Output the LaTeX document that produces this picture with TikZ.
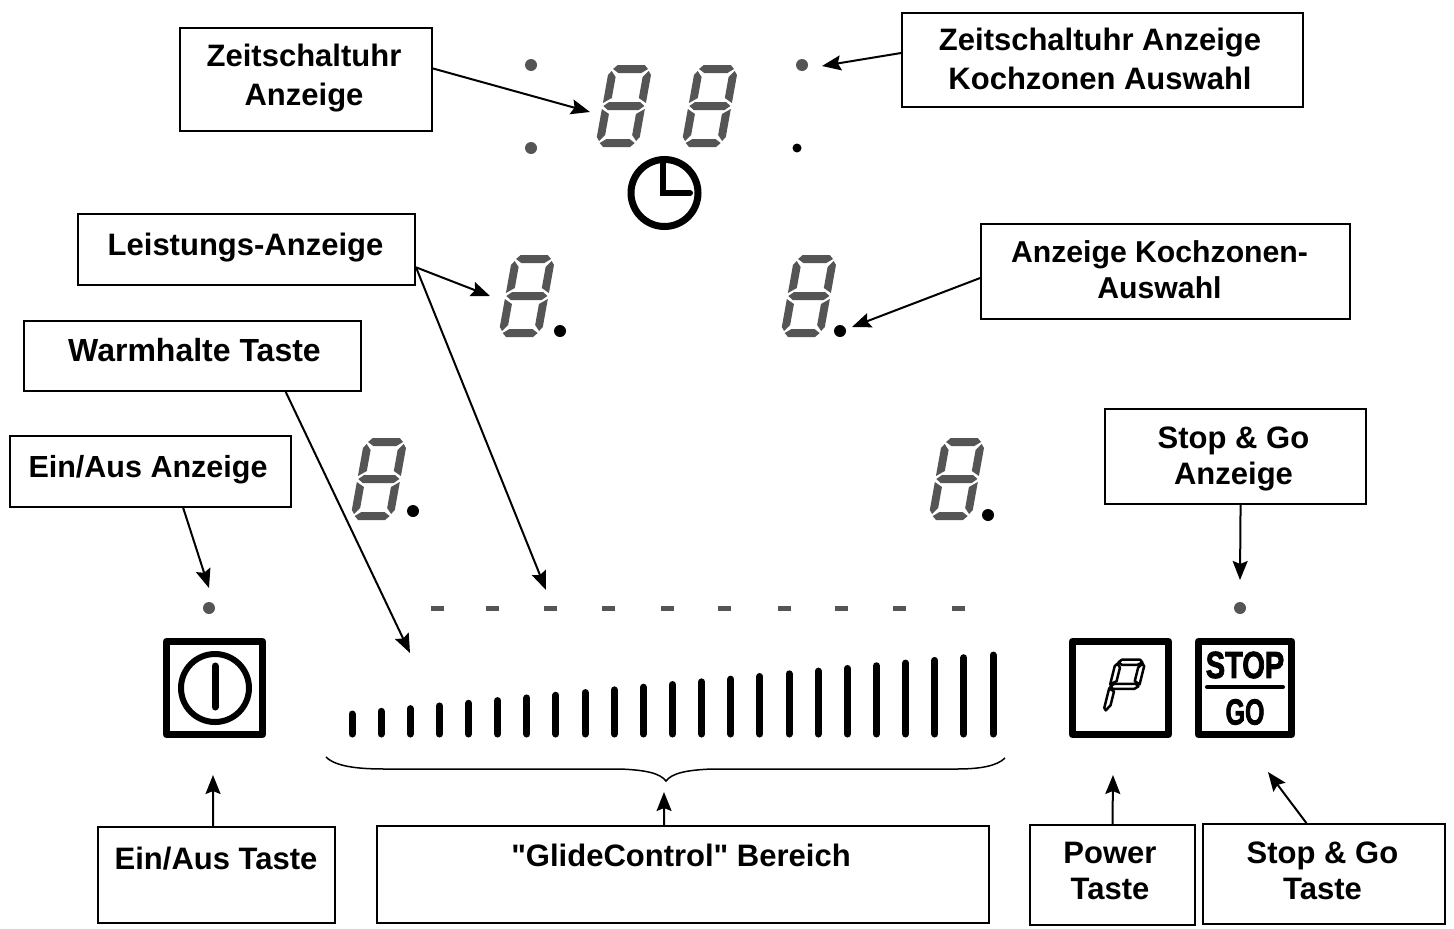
\documentclass[tikz,border=0pt]{standalone}
\usepackage{fontspec}
\setmainfont{Liberation Sans}
\newfontfamily\lf{Liberation Sans}
\newfontfamily\stopf[BoldFeatures={FakeBold=2.5}]{Liberation Sans}
\usetikzlibrary{arrows.meta}
\definecolor{segc}{HTML}{555555}
\tikzset{
  x=1pt,y=-1pt,
  lab/.style={draw=black,line width=1.5pt,fill=white,inner sep=0pt,font=\labfont},
  arr/.style={line width=2pt,-{Stealth[length=19pt,width=15pt,inset=3pt]}},
  seg/.style={fill=segc,draw=none},
  greydot/.style={circle,fill=segc,inner sep=0pt,minimum size=12pt},
  blackdot/.style={circle,fill=black,inner sep=0pt,minimum size=12pt},
  slider/.style={line width=7pt,line cap=round,black},
  lvldash/.style={line width=5.5pt,segc},
  keybox/.style={draw=black,line width=7pt,line join=round,fill=white,inner sep=0pt}
}
\newcommand\labfont{\fontsize{31}{36.5}\selectfont\lf\bfseries}
\newlength\labdx
\newcommand\lab[3][0pt]{\setlength\labdx{#1}\raisebox{#2}[0pt][0pt]{\makebox[0pt]{\hspace*{2\labdx}\begin{tabular}{@{}c@{}}#3\end{tabular}}}}
\newcommand\digitseg[2]{%
 \begin{scope}[shift={(#1-2,#2)},xslant=0.18]
  \fill[seg] (8,-82)--(35,-82)--(39,-78)--(33,-74)--(10,-74)--(4,-78)--cycle;
  \fill[seg] (6,-45)--(37,-45)--(42,-41)--(37,-37)--(6,-37)--(1,-41)--cycle;
  \fill[seg] (8,0)--(35,0)--(39,-4)--(33,-8)--(10,-8)--(4,-4)--cycle;
  \fill[seg] (0,-72)--(3,-76)--(8,-70)--(8,-49)--(0,-44)--cycle;
  \fill[seg] (43,-72)--(40,-76)--(35,-70)--(35,-49)--(43,-44)--cycle;
  \fill[seg] (0,-38)--(8,-33)--(8,-12)--(3,-6)--(0,-10)--cycle;
  \fill[seg] (43,-38)--(35,-33)--(35,-12)--(40,-6)--(43,-10)--cycle;
 \end{scope}}
\begin{document}
\begin{tikzpicture}
\useasboundingbox[fill=white] (0,0) rectangle (1454,929);
% displays
\digitseg{597}{147}\digitseg{683}{147}
\digitseg{500}{337}\digitseg{782}{337}
\digitseg{352}{520}\digitseg{930}{520}
\node[greydot] (d1) at (531,65) {};
\node[greydot] (d2) at (531,148) {};
\node[greydot] (d3) at (802,65) {};
\node[blackdot,minimum size=9pt] (d4) at (797,148) {};
\node[blackdot] (d5) at (560,331) {};
\node[blackdot] (d6) at (840,331) {};
\node[blackdot] (d7) at (413,511) {};
\node[blackdot] (d8) at (988,515) {};
\node[greydot] (d9) at (209,608) {};
\node[greydot] (d10) at (1240,608) {};
% clock
\draw[line width=7pt] (664.5,193) circle (33.5);
\draw[line width=6pt,line cap=round,line join=miter] (663,162) -- (663,193) -- (690,193);
% level dashes
\foreach \xp in {431,486,544,602,661,718,778,835,893,952} \draw[lvldash] (\xp,608.5) -- ++(13,0);
% slider bars
\foreach \i in {0,...,22} \draw[slider] ({352+29.14*\i},734) -- ({352+29.14*\i},{714-2.68*\i});
% brace
\draw[line width=1.5pt] (326,757) .. controls (336,767) and (360,769) .. (385,769) -- (620,769) .. controls (645,770) and (660,773) .. (666,781) .. controls (672,773) and (687,770) .. (712,769) -- (957,769) .. controls (980,769) and (997,766) .. (1005,758);
% keys
\node[keybox,minimum width=96pt,minimum height=93pt] (power) at (214.5,688) {};
\draw[line width=6pt] (215,688) circle (34);
\draw[line width=7pt,line cap=round] (215,666) -- (215,707);
\node[keybox,minimum width=96pt,minimum height=93pt] (pkey) at (1120.5,688) {};
\begin{scope}[shift={(1103,713)},xslant=0.25,xscale=0.7,yscale=0.65,line width=2.5pt,draw=black,fill=white,line join=round]
  \filldraw (8,-82)--(34,-82)--(38,-78)--(32,-74)--(10,-74)--(4,-78)--cycle;
  \filldraw (6,-45)--(36,-45)--(41,-41)--(36,-37)--(6,-37)--(1,-41)--cycle;
  \filldraw (0,-72)--(3,-76)--(8,-70)--(8,-49)--(0,-44)--cycle;
  \filldraw (42,-72)--(39,-76)--(34,-70)--(34,-49)--(42,-44)--cycle;
  \filldraw (0,-38)--(8,-33)--(8,-12)--(3,-4)--(0,-8)--cycle;
\end{scope}
\node[keybox,minimum width=93pt,minimum height=93pt] (stopkey) at (1245,688) {};
\node[inner sep=0pt,font=\fontsize{29}{29}\selectfont\stopf\bfseries,yscale=1.3,transform shape] (stoptxt) at (1245,665) {STOP};
\node[inner sep=0pt,font=\fontsize{25}{25}\selectfont\stopf\bfseries,yscale=1.45,transform shape] (gotxt) at (1245,712) {GO};
\draw[line width=4pt,line cap=round] (1207,687) -- (1283,687);
% label boxes
\node[lab,minimum width=252pt,minimum height=103pt] (zeit) at (306,79.5) {\lab[-2pt]{-5.5pt}{Zeitschaltuhr\\[3pt]Anzeige}};
\node[lab,minimum width=401pt,minimum height=94pt] (zeitk) at (1102.5,60) {\lab[-2.5pt]{-9pt}{Zeitschaltuhr Anzeige\\[2.5pt]Kochzonen Auswahl}};
\node[lab,line width=2pt,minimum width=337pt,minimum height=71pt] (leist) at (246.5,249.5) {\lab[-1pt]{-5pt}{Leistungs-Anzeige}};
\node[lab,font=\fontsize{30.2}{36.5}\selectfont\lf\bfseries,minimum width=369pt,minimum height=95pt] (anzk) at (1165.5,271.5) {\lab[-6pt]{-8pt}{Anzeige Kochzonen-\\Auswahl}};
\node[lab,font=\fontsize{32}{36.5}\selectfont\lf\bfseries,minimum width=337pt,minimum height=70pt] (warm) at (192.5,356) {\lab[2pt]{-4pt}{Warmhalte Taste}};
\node[lab,font=\fontsize{30.5}{36.5}\selectfont\lf\bfseries,minimum width=281pt,minimum height=71pt] (einanz) at (150.5,471.5) {\lab[-2.5pt]{-5pt}{Ein/Aus Anzeige}};
\node[lab,minimum width=261pt,minimum height=95pt] (stopanz) at (1235.5,456.5) {\lab[-2pt]{-9pt}{Stop \& Go\\Anzeige}};
\node[lab,minimum width=237pt,minimum height=96pt] (eintaste) at (216.5,875) {\lab[-0.5pt]{7pt}{Ein/Aus Taste}};
\node[lab,minimum width=612pt,minimum height=97pt] (glide) at (683,874.5) {\lab[-2pt]{9pt}{"GlideControl" Bereich}};
\node[lab,minimum width=165pt,minimum height=100pt] (powert) at (1112.5,875) {\lab[-2.5pt]{-5.5pt}{Power\\Taste}};
\node[lab,minimum width=242pt,minimum height=100pt] (stopt) at (1324,874) {\lab[-1.5pt]{-6.5pt}{Stop \& Go\\Taste}};
% arrow targets
\coordinate (tz) at (590,112);
\coordinate (tzk) at (822,66);
\coordinate (tl1) at (490,296);
\coordinate (tl2) at (546,590);
\coordinate (tak) at (852,327);
\coordinate (tw) at (410,653);
\coordinate (tea) at (209,588);
\coordinate (tsa) at (1240,580);
\coordinate (tet) at (213,775);
\coordinate (tg) at (664,792);
\coordinate (tp) at (1113,775);
\coordinate (tst) at (1268,772);
% arrows
\draw[arr] (zeit.5) -- (tz);
\draw[arr] (zeitk.178) -- (tzk);
\draw[arr] (leist.-6) -- (tl1);
\draw[arr] (leist.-6) -- (tl2);
\draw[arr] (anzk.182) -- (tak);
\draw[arr] (warm.-21.8) -- (tw);
\draw[arr] (einanz.-48.4) -- (tea);
\draw[arr] (stopanz.-84.6) -- (tsa);
\draw[arr] (eintaste.94.2) -- (tet);
\draw[arr] (glide.111.4) -- (tg);
\draw[arr] (powert.north) -- (tp);
\draw[arr] (stopt.109.8) -- (tst);
\end{tikzpicture}
\end{document}
